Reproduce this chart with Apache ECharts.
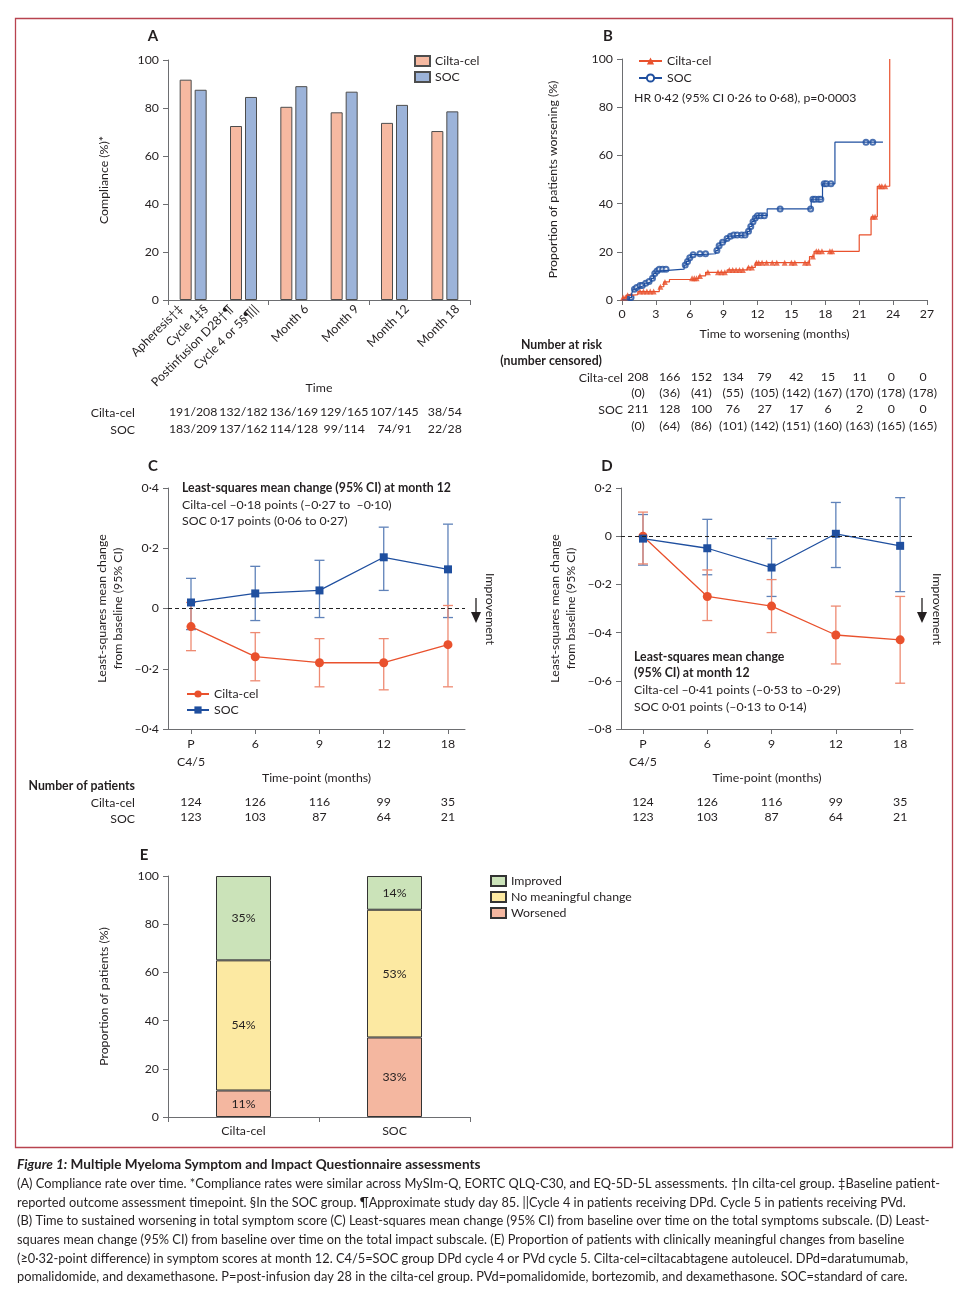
<!DOCTYPE html>
<html><head><meta charset="utf-8">
<script src="https://cdn.jsdelivr.net/npm/echarts@6/dist/echarts.min.js"></script>
<style>html,body{margin:0;padding:0;background:#fff}#c{width:972px;height:1306px}</style>
</head><body><div id="c"></div>
<script>
// ---------- Panel A: compliance ----------
const aGroups = ['G1', 'G2', 'Month 6', 'Month 9', 'Month 12', 'Month 18'];
const aTickLabels = ['Apheresis†‡', 'Cycle 1‡§', 'Postinfusion D28†¶', 'Cycle 4 or 5§¶||', '', 'Month 6', '', 'Month 9', '', 'Month 12', '', 'Month 18'];
const aCilta = [91.8, 72.5, 80.5, 78.2, 73.8, 70.4];
const aSoc = [87.6, 84.6, 89.1, 86.8, 81.3, 78.6];
const aCiltaN = ['191/208', '132/182', '136/169', '129/165', '107/145', '38/54'];
const aSocN = ['183/209', '137/162', '114/128', '99/114', '74/91', '22/28'];

// ---------- Panel B: time to worsening (KM) ----------
const bCiltaKM = [[0,0],[0.15,1],[0.4,2],[1.0,2.2],[1.4,3.5],[3.3,5.5],[3.7,7.5],[4.2,8.5],[6.0,9],[6.8,10],[7.4,11.5],[9.3,12.5],[11.1,13.5],[11.8,15.5],[16.6,18],[17.0,20.2],[21.0,27],[22.05,34.5],[22.6,47.2],[23.7,100]];
const bSocKM = [[0,0],[0.65,1],[0.85,2.5],[1.0,4.5],[1.2,5.2],[1.45,6],[2.0,7],[2.3,7.7],[2.6,9],[2.8,11],[3.0,12],[3.2,12.8],[5.5,14.5],[5.7,16],[5.9,17.5],[6.1,18.8],[6.9,19.2],[8.3,20.5],[8.5,22.5],[8.7,24],[9.2,25.5],[9.4,26.5],[9.7,27],[11.1,28.5],[11.3,30.5],[11.5,32.5],[11.7,34],[11.9,35],[12.85,37.8],[16.75,41.8],[17.75,48.2],[18.85,65.5],[23.1,65.5]];
const bCiltaCens = [[0.1,1],[0.3,1],[0.5,2],[0.8,2],[1.6,3.5],[1.9,3.5],[2.2,3.5],[2.5,3.5],[2.8,3.5],[3.4,5.5],[3.8,7.5],[6.2,9],[6.4,9],[6.6,9],[6.9,10],[7.6,11.5],[8.5,11.5],[8.8,11.5],[9.1,11.5],[9.5,12.5],[9.8,12.5],[10.1,12.5],[10.4,12.5],[10.7,12.5],[11.2,13.5],[11.5,13.5],[11.9,15.5],[12.1,15.5],[12.4,15.5],[12.8,15.5],[13.3,15.5],[13.7,15.5],[14.4,15.5],[15.0,15.5],[15.3,15.5],[16.2,15.5],[16.5,15.5],[16.9,18],[17.2,20.2],[17.4,20.2],[17.7,20.2],[18.4,20.2],[18.6,20.2],[22.2,34.5],[22.4,34.5],[22.8,47.2],[23.0,47.2],[23.3,47.2]];
const bSocCens = [[0.7,1],[0.8,1],[1.1,4.5],[1.3,5.2],[1.6,6],[1.8,6],[2.1,7],[2.4,7.7],[2.7,9],[2.9,11],[3.1,12],[3.3,12.8],[3.6,12.8],[3.9,12.8],[5.6,14.5],[5.8,16],[6.0,17.5],[6.3,18.8],[6.9,19.2],[7.4,19.2],[8.4,20.5],[8.6,22.5],[8.9,24],[9.3,25.5],[9.6,26.5],[9.9,27],[10.2,27],[10.6,27],[10.9,27],[11.2,28.5],[11.4,30.5],[11.6,32.5],[11.8,34],[12.0,35],[12.3,35],[12.6,35],[14.0,37.8],[16.7,37.8],[16.9,41.8],[17.1,41.8],[17.4,41.8],[17.6,41.8],[17.9,48.2],[18.1,48.2],[18.5,48.2],[21.6,65.5],[22.2,65.5]];
const bRiskCilta = ['208','166','152','134','79','42','15','11','0','0'];
const bCensCilta = ['(0)','(36)','(41)','(55)','(105)','(142)','(167)','(170)','(178)','(178)'];
const bRiskSoc = ['211','128','100','76','27','17','6','2','0','0'];
const bCensSoc = ['(0)','(64)','(86)','(101)','(142)','(151)','(160)','(163)','(165)','(165)'];

// ---------- Panel C: total symptoms subscale ----------
const cdTimeLabels = ['P\nC4/5', '6', '9', '12', '18'];
const cCiltaMean = [-0.06, -0.16, -0.18, -0.18, -0.12];
const cCiltaLo = [-0.14, -0.24, -0.26, -0.27, -0.26];
const cCiltaHi = [0.02, -0.08, -0.10, -0.10, 0.01];
const cSocMean = [0.02, 0.05, 0.06, 0.17, 0.13];
const cSocLo = [-0.07, -0.04, -0.03, 0.06, -0.03];
const cSocHi = [0.10, 0.14, 0.16, 0.27, 0.28];
const cdNCilta = ['124', '126', '116', '99', '35'];
const cdNSoc = ['123', '103', '87', '64', '21'];

// ---------- Panel D: total impact subscale ----------
const dCiltaMean = [0.00, -0.25, -0.29, -0.41, -0.43];
const dCiltaLo = [-0.115, -0.35, -0.40, -0.53, -0.61];
const dCiltaHi = [0.10, -0.14, -0.18, -0.29, -0.25];
const dSocMean = [-0.01, -0.05, -0.13, 0.01, -0.04];
const dSocLo = [-0.12, -0.16, -0.25, -0.13, -0.23];
const dSocHi = [0.09, 0.07, -0.01, 0.14, 0.16];

// ---------- Panel E: clinically meaningful change ----------
const eGroups = ['Cilta-cel', 'SOC'];
const eWorsened = [11, 33];
const eNoChange = [54, 53];
const eImproved = [35, 14];

// ---------- caption ----------
const captionTitleA = 'Figure 1:';
const captionTitleB = 'Multiple Myeloma Symptom and Impact Questionnaire assessments';
const captionLines = [
  '(A) Compliance rate over time. *Compliance rates were similar across MySIm-Q, EORTC QLQ-C30, and EQ-5D-5L assessments. †In cilta-cel group. ‡Baseline patient-',
  'reported outcome assessment timepoint. §In the SOC group. ¶Approximate study day 85. ||Cycle 4 in patients receiving DPd. Cycle 5 in patients receiving PVd.',
  '(B) Time to sustained worsening in total symptom score (C) Least-squares mean change (95% CI) from baseline over time on the total symptoms subscale. (D) Least-',
  'squares mean change (95% CI) from baseline over time on the total impact subscale. (E) Proportion of patients with clinically meaningful changes from baseline',
  '(≥0·32-point difference) in symptom scores at month 12. C4/5=SOC group DPd cycle 4 or PVd cycle 5. Cilta-cel=ciltacabtagene autoleucel. DPd=daratumumab,',
  'pomalidomide, and dexamethasone. P=post-infusion day 28 in the cilta-cel group. PVd=pomalidomide, bortezomib, and dexamethasone. SOC=standard of care.'
];

// ================= styling / building =================
const FONT = 'Lato';
const TXT = '#231f20';
const AX = '#6d6e71';
const FS = 12.3;
const RED = '#e9512d';
const BLUE = '#1f4f9f';
const RED_ERR = '#ee8a72';
const BLUE_ERR = '#5f82b9';

function merge(a, b) {
  const o = Object.assign({}, a);
  for (const k in b) {
    if (b[k] && typeof b[k] === 'object' && !Array.isArray(b[k]) && o[k] && typeof o[k] === 'object') o[k] = merge(o[k], b[k]);
    else o[k] = b[k];
  }
  return o;
}
function baseAxis(extra) {
  return merge({
    axisLine: {show: true, onZero: false, lineStyle: {color: AX, width: 1}},
    axisTick: {show: true, length: 5, lineStyle: {color: AX, width: 1}},
    axisLabel: {color: TXT, fontSize: FS, fontFamily: FONT},
    splitLine: {show: false},
    nameTextStyle: {color: TXT, fontSize: FS, fontFamily: FONT}
  }, extra);
}
function labelAxis(gridIndex, data, offset, extra) {
  return merge({
    type: 'category', gridIndex, data, position: 'bottom', offset,
    axisLine: {show: false}, axisTick: {show: false}, splitLine: {show: false},
    axisLabel: {color: TXT, fontSize: FS, fontFamily: FONT, margin: 0, interval: 0}
  }, extra || {});
}
function valueLabelAxis(gridIndex, min, max, labels, offset) {
  return {
    type: 'value', gridIndex, min, max, position: 'bottom', offset,
    axisLine: {show: false}, axisTick: {show: false}, splitLine: {show: false},
    axisLabel: {color: TXT, fontSize: FS, fontFamily: FONT, margin: 0,
      customValues: labels.map((_, i) => i), formatter: v => labels[Math.round(v)]}
  };
}
const dec = v => Math.abs(v) < 1e-9 ? '0' : (v < 0 ? '–' : '') + Math.abs(v).toFixed(1).replace('.', '·');

function errSeries(xi, yi, lo, hi, color) {
  return {
    type: 'custom', xAxisIndex: xi, yAxisIndex: yi, silent: true, z: 1,
    data: lo.map((l, i) => [i, l, hi[i]]),
    encode: {x: 0, y: [1, 2]},
    renderItem: (params, api) => {
      const x = api.value(0);
      const p1 = api.coord([x, api.value(1)]);
      const p2 = api.coord([x, api.value(2)]);
      const w = 5, st = {stroke: color, lineWidth: 1.3};
      return {type: 'group', children: [
        {type: 'line', shape: {x1: p1[0], y1: p1[1], x2: p2[0], y2: p2[1]}, style: st},
        {type: 'line', shape: {x1: p1[0] - w, y1: p1[1], x2: p1[0] + w, y2: p1[1]}, style: st},
        {type: 'line', shape: {x1: p2[0] - w, y1: p2[1], x2: p2[0] + w, y2: p2[1]}, style: st}
      ]};
    }
  };
}
function meanSeries(name, xi, yi, vals, color, symbol, size, zero) {
  const s = {
    type: 'line', name, xAxisIndex: xi, yAxisIndex: yi, z: 3,
    data: vals.map((v, i) => [i, v]), symbol, symbolSize: size, showSymbol: true,
    lineStyle: {color, width: 1.3}, itemStyle: {color}
  };
  if (zero) s.markLine = {silent: true, symbol: 'none', label: {show: false},
    lineStyle: {type: [4, 3], color: '#222', width: 1}, data: [{yAxis: 0}]};
  return s;
}

const cMin = -0.358, cMax = 4.265, dMin = -0.342, dMax = 4.2;
const idx5 = [0, 1, 2, 3, 4];
const strip = n => n.slice(2);
const legendText = {color: TXT, fontSize: FS, fontFamily: FONT};

const option = {
  backgroundColor: '#fff',
  animation: false,
  textStyle: {fontFamily: FONT},
  grid: [
    {left: 168, top: 60, width: 302, height: 240},
    {left: 622, top: 59, width: 305, height: 241},
    {left: 168, top: 488, width: 297, height: 241},
    {left: 621, top: 488, width: 292, height: 241},
    {left: 168, top: 876, width: 302, height: 241},
    {left: 638, top: 299, width: 285, height: 1}
  ],
  xAxis: [
    baseAxis({type: 'category', gridIndex: 0, data: aGroups, axisLabel: {show: false},
      name: 'Time', nameLocation: 'middle', nameGap: 82}),
    labelAxis(0, aTickLabels, 0, {axisLabel: {rotate: 45, margin: 7}}),
    labelAxis(0, aCiltaN, 106),
    labelAxis(0, aSocN, 123),
    baseAxis({type: 'value', gridIndex: 1, min: 0, max: 27, interval: 3, axisLabel: {margin: 8},
      name: 'Time to worsening (months)', nameLocation: 'middle', nameGap: 28}),
    baseAxis({type: 'value', gridIndex: 2, min: cMin, max: cMax,
      axisTick: {customValues: idx5},
      axisLabel: {customValues: idx5, formatter: v => cdTimeLabels[Math.round(v)], lineHeight: 18, margin: 6},
      name: 'Time-point (months)', nameLocation: 'middle', nameGap: 40}),
    valueLabelAxis(2, cMin, cMax, cdNCilta, 67),
    valueLabelAxis(2, cMin, cMax, cdNSoc, 82),
    baseAxis({type: 'value', gridIndex: 3, min: dMin, max: dMax,
      axisTick: {customValues: idx5},
      axisLabel: {customValues: idx5, formatter: v => cdTimeLabels[Math.round(v)], lineHeight: 18, margin: 6},
      name: 'Time-point (months)', nameLocation: 'middle', nameGap: 40}),
    valueLabelAxis(3, dMin, dMax, cdNCilta, 67),
    valueLabelAxis(3, dMin, dMax, cdNSoc, 82),
    baseAxis({type: 'category', gridIndex: 4, data: eGroups, axisLabel: {margin: 8}}),
    labelAxis(5, bRiskCilta, 71, {boundaryGap: false}),
    labelAxis(5, bCensCilta, 87, {boundaryGap: false}),
    labelAxis(5, bRiskSoc, 103, {boundaryGap: false}),
    labelAxis(5, bCensSoc, 120, {boundaryGap: false})
  ],
  yAxis: [
    baseAxis({type: 'value', gridIndex: 0, min: 0, max: 100, interval: 20, axisLabel: {margin: 9},
      name: 'Compliance (%)*', nameLocation: 'middle', nameGap: 58}),
    baseAxis({type: 'value', gridIndex: 1, min: 0, max: 100, interval: 20, axisLabel: {margin: 9},
      name: 'Proportion of patients worsening (%)', nameLocation: 'middle', nameGap: 63}),
    baseAxis({type: 'value', gridIndex: 2, min: -0.4, max: 0.4, interval: 0.2, axisLabel: {margin: 9, formatter: dec},
      name: 'Least-squares mean change\nfrom baseline (95% CI)', nameLocation: 'middle', nameGap: 42,
      nameTextStyle: {lineHeight: 16}}),
    baseAxis({type: 'value', gridIndex: 3, min: -0.8, max: 0.2, interval: 0.2, axisLabel: {margin: 9, formatter: dec},
      name: 'Least-squares mean change\nfrom baseline (95% CI)', nameLocation: 'middle', nameGap: 42,
      nameTextStyle: {lineHeight: 16}}),
    baseAxis({type: 'value', gridIndex: 4, min: 0, max: 100, interval: 20, axisLabel: {margin: 9},
      name: 'Proportion of patients (%)', nameLocation: 'middle', nameGap: 58}),
    {type: 'value', gridIndex: 5, show: false}
  ],
  legend: [
    {left: 409, top: 50, orient: 'vertical', icon: 'rect', itemWidth: 15, itemHeight: 10, itemGap: 4,
      data: ['A:Cilta-cel', 'A:SOC'], formatter: strip, textStyle: legendText, selectedMode: false},
    {left: 633, top: 50, orient: 'vertical', itemWidth: 23, itemHeight: 9, itemGap: 5,
      data: ['B:Cilta-cel', 'B:SOC'], formatter: strip, textStyle: legendText, selectedMode: false},
    {left: 181, top: 683, orient: 'vertical', itemWidth: 22, itemHeight: 9, itemGap: 4,
      data: ['C:Cilta-cel', 'C:SOC'], formatter: strip, textStyle: legendText, selectedMode: false},
    {left: 485, top: 870, orient: 'vertical', icon: 'rect', itemWidth: 15, itemHeight: 10, itemGap: 4,
      data: ['E:Improved', 'E:No meaningful change', 'E:Worsened'], formatter: strip, textStyle: legendText, selectedMode: false}
  ],
  series: [
    // A
    {type: 'bar', name: 'A:Cilta-cel', xAxisIndex: 0, yAxisIndex: 0, data: aCilta, barWidth: 12, barGap: '25%',
      itemStyle: {color: '#f6b9a1', borderColor: '#4d4d4d', borderWidth: 1}},
    {type: 'bar', name: 'A:SOC', xAxisIndex: 0, yAxisIndex: 0, data: aSoc, barWidth: 12,
      itemStyle: {color: '#9cb3d9', borderColor: '#4d4d4d', borderWidth: 1}},
    // B
    {type: 'line', name: 'B:Cilta-cel', xAxisIndex: 4, yAxisIndex: 1, data: bCiltaKM, step: 'end',
      symbol: 'triangle', symbolSize: 7, showSymbol: false, lineStyle: {color: RED, width: 1.2}, itemStyle: {color: RED}},
    {type: 'line', name: 'B:SOC', xAxisIndex: 4, yAxisIndex: 1, data: bSocKM, step: 'end',
      symbol: 'emptyCircle', symbolSize: 7, showSymbol: false, lineStyle: {color: BLUE, width: 1.2}, itemStyle: {color: BLUE}},
    {type: 'scatter', xAxisIndex: 4, yAxisIndex: 1, data: bCiltaCens, symbol: 'triangle', symbolSize: 6,
      itemStyle: {color: RED}, silent: true},
    {type: 'scatter', xAxisIndex: 4, yAxisIndex: 1, data: bSocCens, symbol: 'emptyCircle', symbolSize: 5,
      itemStyle: {color: BLUE, borderWidth: 1}, silent: true},
    // C
    errSeries(5, 2, cSocLo, cSocHi, BLUE_ERR),
    errSeries(5, 2, cCiltaLo, cCiltaHi, RED_ERR),
    meanSeries('C:Cilta-cel', 5, 2, cCiltaMean, RED, 'circle', 9, true),
    meanSeries('C:SOC', 5, 2, cSocMean, BLUE, 'rect', 8, false),
    // D
    errSeries(8, 3, dSocLo, dSocHi, BLUE_ERR),
    errSeries(8, 3, dCiltaLo, dCiltaHi, RED_ERR),
    meanSeries('D:Cilta-cel', 8, 3, dCiltaMean, RED, 'circle', 9, true),
    meanSeries('D:SOC', 8, 3, dSocMean, BLUE, 'rect', 8, false),
    // E
    {type: 'bar', name: 'E:Worsened', xAxisIndex: 11, yAxisIndex: 4, stack: 'e', data: eWorsened, barWidth: 55,
      itemStyle: {color: '#f4b7a0', borderColor: '#333', borderWidth: 1},
      label: {show: true, formatter: '{c}%', color: TXT, fontSize: FS, fontFamily: FONT}},
    {type: 'bar', name: 'E:No meaningful change', xAxisIndex: 11, yAxisIndex: 4, stack: 'e', data: eNoChange, barWidth: 55,
      itemStyle: {color: '#fce9a2', borderColor: '#333', borderWidth: 1},
      label: {show: true, formatter: '{c}%', color: TXT, fontSize: FS, fontFamily: FONT}},
    {type: 'bar', name: 'E:Improved', xAxisIndex: 11, yAxisIndex: 4, stack: 'e', data: eImproved, barWidth: 55,
      itemStyle: {color: '#cbe3b9', borderColor: '#333', borderWidth: 1},
      label: {show: true, formatter: '{c}%', color: TXT, fontSize: FS, fontFamily: FONT}}
  ],
  graphic: []
};

function T(x, y, text, o) {
  o = o || {};
  return {type: 'text', x, y, silent: true, rotation: o.rotation || 0,
    style: {text, fill: TXT, fontFamily: FONT, fontSize: o.size || FS, fontWeight: o.weight || 'normal',
      fontStyle: o.style || 'normal', align: o.align || 'left', verticalAlign: 'middle'}};
}
const g = option.graphic;
g.push({type: 'rect', silent: true, shape: {x: 15.5, y: 18.5, width: 937, height: 1129},
  style: {fill: 'none', stroke: '#b8434f', lineWidth: 1.3}});
// panel letters
[['A', 153, 36], ['B', 608, 36], ['C', 153, 466], ['D', 607, 466], ['E', 144, 855]].forEach(p =>
  g.push(T(p[1], p[2], p[0], {weight: 'bold', size: 15, align: 'center'})));
// A table row labels
g.push(T(135, 413, 'Cilta-cel', {align: 'right'}));
g.push(T(135, 430, 'SOC', {align: 'right'}));
// B
g.push(T(634, 98, 'HR 0·42 (95% CI 0·26 to 0·68), p=0·0003'));
g.push(T(602, 345, 'Number at risk', {weight: 'bold', align: 'right'}));
g.push(T(602, 361, '(number censored)', {weight: 'bold', align: 'right'}));
g.push(T(623, 378, 'Cilta-cel', {align: 'right'}));
g.push(T(623, 410, 'SOC', {align: 'right'}));
// C
g.push(T(182, 488, 'Least-squares mean change (95% CI) at month 12', {weight: 'bold'}));
g.push(T(182, 505, 'Cilta-cel –0·18 points (–0·27 to  –0·10)'));
g.push(T(182, 521, 'SOC 0·17 points (0·06 to 0·27)'));
g.push(T(135, 786, 'Number of patients', {weight: 'bold', align: 'right'}));
g.push(T(135, 803, 'Cilta-cel', {align: 'right'}));
g.push(T(135, 819, 'SOC', {align: 'right'}));
// D
g.push(T(634, 657, 'Least-squares mean change', {weight: 'bold'}));
g.push(T(634, 673, '(95% CI) at month 12', {weight: 'bold'}));
g.push(T(634, 690, 'Cilta-cel –0·41 points (–0·53 to –0·29)'));
g.push(T(634, 707, 'SOC 0·01 points (–0·13 to 0·14)'));
// Improvement arrows
[[476, 490], [922, 937]].forEach(a => {
  g.push({type: 'line', silent: true, shape: {x1: a[0], y1: 598, x2: a[0], y2: 614}, style: {stroke: '#231f20', lineWidth: 1.3}});
  g.push({type: 'polygon', silent: true, shape: {points: [[a[0] - 5, 612], [a[0] + 5, 612], [a[0], 623]]}, style: {fill: '#231f20'}});
  g.push(T(a[1], 609, 'Improvement', {rotation: -Math.PI / 2, align: 'center'}));
});
// caption
g.push({type: 'text', x: 17, y: 1165, silent: true, style: {
  text: '{i|' + captionTitleA + '} {b|' + captionTitleB + '}', verticalAlign: 'middle',
  rich: {
    i: {fontStyle: 'italic', fontWeight: 'bold', fontSize: 13.6, fontFamily: FONT, fill: TXT},
    b: {fontWeight: 'bold', fontSize: 13.6, fontFamily: FONT, fill: TXT}
  }}});
captionLines.forEach((l, i) => g.push(T(17, 1184 + i * 18.6, l, {size: 12.8})));

const chart = echarts.init(document.getElementById('c'));
chart.setOption(option);
</script></body></html>
